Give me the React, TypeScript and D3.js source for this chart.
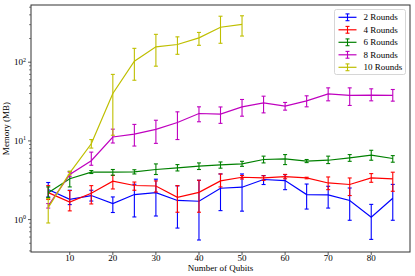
import React from "react";
import * as d3 from "d3";

const qubits = [5, 10, 15, 20, 25, 30, 35, 40, 45, 50, 55, 60, 65, 70, 75, 80, 85];

const r2Mean = [2.41, 1.81, 2.02, 1.6, 2.08, 2.2, 1.75, 1.71, 2.5, 2.58, 3.23, 3.13, 2.08, 2.06, 1.75, 1.07, 1.87];
const r2Lo = [1.94, 1.55, 1.72, 1.23, 1.08, 1.11, 0.78, 0.55, 1.3, 1.28, 2.79, 2.4, 1.36, 1.4, 0.98, 0.56, 0.98];
const r2Hi = [2.96, 2.36, 2.36, 1.94, 2.81, 3.26, 2.68, 3.16, 3.8, 3.8, 3.63, 3.73, 2.83, 2.65, 2.52, 1.56, 2.8];

const r4Mean = [2.2, 1.67, 2.16, 3.07, 2.71, 2.67, 1.92, 2.22, 3.1, 3.45, 3.38, 3.52, 3.38, 2.92, 2.79, 3.38, 3.29];
const r4Lo = [1.8, 1.29, 1.58, 2.45, 2.36, 2.24, 1.24, 1.24, 2.6, 3.28, 3.15, 3.3, 3.3, 2.4, 2.02, 2.98, 2.29];
const r4Hi = [2.7, 2.34, 2.7, 3.65, 3.0, 3.1, 2.7, 3.16, 3.8, 3.63, 3.6, 3.75, 3.45, 3.48, 3.38, 3.84, 4.0];

const r6Mean = [2.2, 3.3, 4.0, 4.0, 4.03, 4.33, 4.54, 4.77, 4.97, 5.1, 5.8, 5.9, 5.52, 5.68, 6.08, 6.58, 5.97];
const r6Lo = [1.9, 2.6, 3.85, 3.66, 3.8, 3.74, 4.15, 4.33, 4.5, 4.75, 5.25, 5.0, 5.3, 5.15, 5.5, 5.68, 5.36];
const r6Hi = [2.6, 4.1, 4.2, 4.33, 4.3, 5.1, 5.0, 5.25, 5.4, 5.5, 6.4, 6.7, 5.8, 6.4, 6.7, 7.6, 6.5];

const r8Mean = [1.49, 3.74, 5.6, 11.2, 12.2, 14.0, 17.1, 22.3, 21.9, 27.1, 30.4, 27.6, 32.3, 39.6, 37.8, 38.1, 37.8];
const r8Lo = [1.4, 3.5, 4.9, 9.4, 8.6, 9.3, 10.4, 17.5, 16.7, 20.6, 22.7, 24.6, 27.1, 32.3, 28.2, 32.3, 32];
const r8Hi = [1.6, 4.0, 7.2, 14.1, 16.2, 18.3, 23.4, 27.1, 27.0, 33.6, 37, 30.8, 37.4, 47.2, 47.2, 45.9, 45];

const r10Mean = [1.42, 3.92, 9.2, 40.1, 103, 157, 168, 204, 278, 302];
const r10Lo = [0.905, 3.7, 8.1, 11.8, 59, 89, 126, 164, 174, 215];
const r10Hi = [1.85, 4.1, 10.4, 70, 150, 226, 210, 239, 384, 389];

const seriesNames = ["2 Rounds", "4 Rounds", "6 Rounds", "8 Rounds", "10 Rounds"];
const seriesColors = ["#0000ff", "#ff0000", "#008000", "#bf00bf", "#bfbf00"];
const xTicks = [10, 20, 30, 40, 50, 60, 70, 80];
const yTicks = [1, 10, 100];

const W = 415, H = 276;
const L = 31, R = 410, T = 5, B = 252;
const FONT = "'Liberation Serif', 'Times New Roman', serif";

export default function App() {
  const x = d3.scaleLinear().domain([1, 89]).range([L, R]);
  const y = d3.scaleLog().domain([Math.pow(10, -0.412), Math.pow(10, 2.727)]).range([B, T]);

  const all = [
    { mean: r2Mean, lo: r2Lo, hi: r2Hi },
    { mean: r4Mean, lo: r4Lo, hi: r4Hi },
    { mean: r6Mean, lo: r6Lo, hi: r6Hi },
    { mean: r8Mean, lo: r8Lo, hi: r8Hi },
    { mean: r10Mean, lo: r10Lo, hi: r10Hi },
  ];

  const line = d3.line<[number, number]>().x((d) => x(d[0])).y((d) => y(d[1]));

  const minorTicks: number[] = [];
  for (let e = -1; e <= 2; e++) {
    for (let k = 2; k <= 9; k++) {
      const v = k * Math.pow(10, e);
      const [d0, d1] = y.domain();
      if (v >= d0 && v <= d1) minorTicks.push(v);
    }
  }

  const cap = 2;

  return (
    <svg width={W} height={H} style={{ position: "absolute", left: 0, top: 0, background: "#fff" }} fontFamily={FONT}>
      <rect x={0} y={0} width={W} height={H} fill="#fff" />
      <defs>
        <clipPath id="plotclip">
          <rect x={L} y={T} width={R - L} height={B - T} />
        </clipPath>
      </defs>
      <g clipPath="url(#plotclip)">
        {all.map((s, si) => {
          const col = seriesColors[si];
          const pts: [number, number][] = s.mean.map((m, i) => [qubits[i], m]);
          return (
            <g key={si}>
              <path d={line(pts) || ""} fill="none" stroke={col} strokeWidth={1.2} />
              {s.mean.map((m, i) => {
                const cx = x(qubits[i]);
                const y1 = y(s.lo[i]);
                const y2 = y(s.hi[i]);
                return (
                  <g key={i} stroke={col} strokeWidth={1.1}>
                    <line x1={cx} x2={cx} y1={y1} y2={y2} />
                    <line x1={cx - cap} x2={cx + cap} y1={y1} y2={y1} />
                    <line x1={cx - cap} x2={cx + cap} y1={y2} y2={y2} />
                  </g>
                );
              })}
            </g>
          );
        })}
      </g>
      {/* spines */}
      <rect x={L} y={T} width={R - L} height={B - T} fill="none" stroke="#333" strokeWidth={1} />
      {/* x ticks */}
      {xTicks.map((t) => (
        <g key={t}>
          <line x1={x(t)} x2={x(t)} y1={B} y2={B + 3} stroke="#333" strokeWidth={0.8} />
          <text x={x(t)} y={261} fontSize={9} textAnchor="middle" fill="#000">{t}</text>
        </g>
      ))}
      {/* y ticks */}
      {yTicks.map((t, i) => (
        <g key={t}>
          <line x1={L - 3} x2={L} y1={y(t)} y2={y(t)} stroke="#333" strokeWidth={0.8} />
          <text x={14} y={y(t) + 3} fontSize={9} fill="#000">
            10<tspan fontSize={6} dy={-3.5}>{i}</tspan>
          </text>
        </g>
      ))}
      {minorTicks.map((t) => (
        <line key={t} x1={L - 2} x2={L} y1={y(t)} y2={y(t)} stroke="#333" strokeWidth={0.6} />
      ))}
      <text x={(L + R) / 2} y={271} fontSize={9} textAnchor="middle" fill="#000">Number of Qubits</text>
      <text transform={`translate(9, ${(T + B) / 2}) rotate(-90)`} fontSize={9} textAnchor="middle" fill="#000">Memory (MB)</text>
      {/* legend */}
      <rect x={334.5} y={9.5} width={71} height={65} rx={2} fill="#fff" fillOpacity={0.8} stroke="#ccc" strokeWidth={0.8} />
      {seriesNames.map((n, i) => {
        const ly = 17.3 + i * 12.5;
        const col = seriesColors[i];
        return (
          <g key={n}>
            <line x1={338.5} x2={356.5} y1={ly} y2={ly} stroke={col} strokeWidth={1.2} />
            <g stroke={col} strokeWidth={1.1}>
              <line x1={347.5} x2={347.5} y1={ly - 3.4} y2={ly + 3.4} />
              <line x1={345.5} x2={349.5} y1={ly - 3.4} y2={ly - 3.4} />
              <line x1={345.5} x2={349.5} y1={ly + 3.4} y2={ly + 3.4} />
            </g>
            <text x={363.5} y={ly + 3} fontSize={9} fill="#000">{n}</text>
          </g>
        );
      })}
    </svg>
  );
}
